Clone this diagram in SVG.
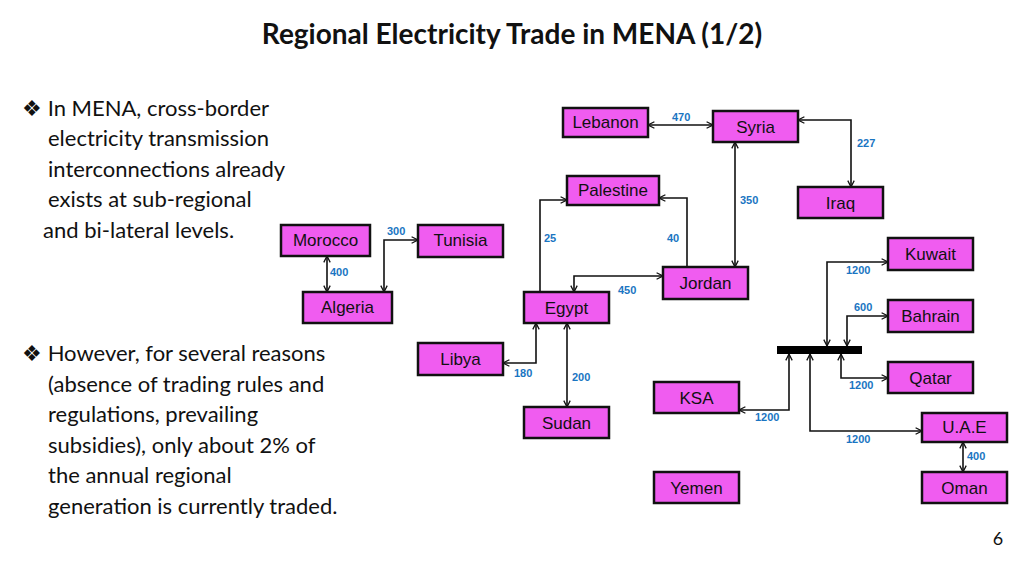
<svg xmlns="http://www.w3.org/2000/svg" width="1024" height="575" viewBox="0 0 1024 575">
<style>
.n rect{fill:#f05cf0;stroke:#111;stroke-width:2.5}
.n text{font-family:"Liberation Sans",Arial,sans-serif;font-size:17px;fill:#111;text-anchor:middle}
.c path{fill:none;stroke:#111;stroke-width:1.6}
.l{font-family:"Liberation Sans",Arial,sans-serif;font-size:11px;font-weight:bold;fill:#1a75c2}
.b{font-family:Lato,"Open Sans",sans-serif;font-size:22px;fill:#111}
</style>
<defs>
<marker id="a" viewBox="0 0 10 10" refX="9" refY="5" markerWidth="8" markerHeight="8" orient="auto-start-reverse" markerUnits="userSpaceOnUse"><path d="M1,1 L9,5 L1,9" fill="none" stroke="#111" stroke-width="1.6"/></marker>
</defs>
<rect width="1024" height="575" fill="#fff"/>
<text x="512" y="44" text-anchor="middle" font-family="Lato,'Open Sans',sans-serif" font-size="28" font-weight="bold" fill="#111">Regional Electricity Trade in MENA (1/2)</text>
<g class="b">
<text x="22" y="116">❖ In MENA, cross-border</text>
<text x="48" y="146">electricity transmission</text>
<text x="48" y="177">interconnections already</text>
<text x="48" y="207">exists at sub-regional</text>
<text x="43" y="238">and bi-lateral levels.</text>
<text x="22" y="361">❖ However, for several reasons</text>
<text x="48" y="392">(absence of trading rules and</text>
<text x="48" y="422">regulations, prevailing</text>
<text x="48" y="453">subsidies), only about 2% of</text>
<text x="48" y="483">the annual regional</text>
<text x="48" y="514">generation is currently traded.</text>
</g>
<text x="998" y="545" text-anchor="middle" font-family="Lato,sans-serif" font-size="18" fill="#111">6</text>
<g class="c">
<path d="M648,125 H713" marker-start="url(#a)" marker-end="url(#a)"/>
<path d="M798,120 H851 V187" marker-start="url(#a)" marker-end="url(#a)"/>
<path d="M735,142 V267" marker-start="url(#a)" marker-end="url(#a)"/>
<path d="M687,267 V198 H659" marker-end="url(#a)"/>
<path d="M540,292 V200 H567" marker-end="url(#a)"/>
<path d="M663,276 H574 V292" marker-start="url(#a)" marker-end="url(#a)" stroke-width="2.2"/>
<path d="M536,323 V363 H503" marker-start="url(#a)" marker-end="url(#a)"/>
<path d="M567,323 V407" marker-start="url(#a)" marker-end="url(#a)"/>
<path d="M327,256 V292" marker-start="url(#a)" marker-end="url(#a)"/>
<path d="M384,292 V240 H418" marker-start="url(#a)" marker-end="url(#a)"/>
<path d="M827,346 V262 H888" marker-start="url(#a)" marker-end="url(#a)"/>
<path d="M847,346 V316 H888" marker-start="url(#a)" marker-end="url(#a)"/>
<path d="M841,354 V378 H888" marker-start="url(#a)" marker-end="url(#a)"/>
<path d="M789,354 V410 H739" marker-start="url(#a)" marker-end="url(#a)"/>
<path d="M810,354 V431 H922" marker-start="url(#a)" marker-end="url(#a)"/>
<path d="M963,442 V472" marker-start="url(#a)" marker-end="url(#a)"/>
<rect x="777" y="346" width="85" height="8" fill="#000"/>
</g>
<g>
<text class="l" x="672" y="121">470</text>
<text class="l" x="857" y="147">227</text>
<text class="l" x="740" y="204">350</text>
<text class="l" x="667" y="242">40</text>
<text class="l" x="544" y="242">25</text>
<text class="l" x="618" y="294">450</text>
<text class="l" x="514" y="377">180</text>
<text class="l" x="572" y="381">200</text>
<text class="l" x="330" y="276">400</text>
<text class="l" x="387" y="235">300</text>
<text class="l" x="846" y="274">1200</text>
<text class="l" x="854" y="311">600</text>
<text class="l" x="849" y="389">1200</text>
<text class="l" x="755" y="421">1200</text>
<text class="l" x="846" y="443">1200</text>
<text class="l" x="967" y="460">400</text>
</g>
<g id="lebanon" class="n"><rect x="563" y="108" width="85" height="29"/><text x="605.5" y="128" font-size="15">Lebanon</text></g>
<g id="syria" class="n"><rect x="713" y="111" width="85" height="31"/><text x="755.5" y="133">Syria</text></g>
<g id="iraq" class="n"><rect x="798" y="187" width="85" height="31"/><text x="840.5" y="209">Iraq</text></g>
<g id="palestine" class="n"><rect x="567" y="176" width="92" height="29"/><text x="613" y="196" font-size="15">Palestine</text></g>
<g id="jordan" class="n"><rect x="663" y="267" width="85" height="32"/><text x="705.5" y="289">Jordan</text></g>
<g id="egypt" class="n"><rect x="524" y="292" width="85" height="31"/><text x="566.5" y="314">Egypt</text></g>
<g id="libya" class="n"><rect x="418" y="343" width="85" height="32"/><text x="460.5" y="365">Libya</text></g>
<g id="sudan" class="n"><rect x="524" y="407" width="85" height="31"/><text x="566.5" y="429">Sudan</text></g>
<g id="morocco" class="n"><rect x="281" y="225" width="89" height="31"/><text x="325.5" y="246" font-size="15">Morocco</text></g>
<g id="tunisia" class="n"><rect x="418" y="225" width="85" height="32"/><text x="460.5" y="246" font-size="15">Tunisia</text></g>
<g id="algeria" class="n"><rect x="303" y="292" width="89" height="31"/><text x="347.5" y="313" font-size="15">Algeria</text></g>
<g id="kuwait" class="n"><rect x="888" y="238" width="85" height="32"/><text x="930.5" y="260">Kuwait</text></g>
<g id="bahrain" class="n"><rect x="888" y="300" width="85" height="32"/><text x="930.5" y="322">Bahrain</text></g>
<g id="qatar" class="n"><rect x="888" y="362" width="85" height="31"/><text x="930.5" y="384">Qatar</text></g>
<g id="ksa" class="n"><rect x="654" y="382" width="85" height="31"/><text x="696.5" y="404">KSA</text></g>
<g id="uae" class="n"><rect x="922" y="413" width="85" height="29"/><text x="964.5" y="433" font-size="15">U.A.E</text></g>
<g id="oman" class="n"><rect x="922" y="472" width="85" height="31"/><text x="964.5" y="494">Oman</text></g>
<g id="yemen" class="n"><rect x="654" y="472" width="85" height="31"/><text x="696.5" y="494">Yemen</text></g>
</svg>
